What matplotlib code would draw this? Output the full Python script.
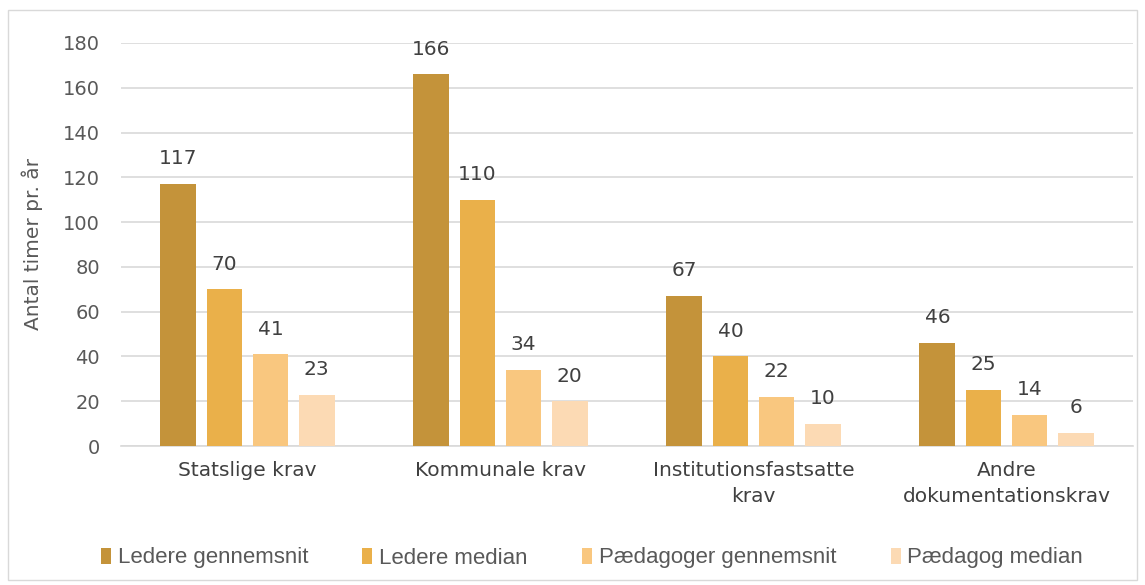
import matplotlib.pyplot as plt
import numpy as np
from matplotlib.patches import Rectangle

categories = ["Statslige krav", "Kommunale krav", "Institutionsfastsatte\nkrav", "Andre\ndokumentationskrav"]
series_names = ["Ledere gennemsnit", "Ledere median", "Pædagoger gennemsnit", "Pædagog median"]
ledere_gns = [117, 166, 67, 46]
ledere_median = [70, 110, 40, 25]
paed_gns = [41, 34, 22, 14]
paed_median = [23, 20, 10, 6]
colors = ["#C4933A", "#EAB04A", "#F9C77F", "#FCDAB4"]

W, H = 1145, 585
fig = plt.figure(figsize=(W / 100, H / 100), dpi=100)
ax = fig.add_axes([121 / W, 1 - 446 / H, (1133 - 121) / W, (446 - 43) / H])

x = np.arange(len(categories))
data = [ledere_gns, ledere_median, paed_gns, paed_median]
bw = 0.142
step = 0.182
for i, (vals, c, name) in enumerate(zip(data, colors, series_names)):
    pos = x + (i - 1.5) * step
    ax.bar(pos, vals, width=bw, color=c, label=name, zorder=3)
    for p, v in zip(pos, vals):
        ax.text(p, v + 7, f"{v}", ha="center", va="bottom", fontsize=14.5,
                color="#404040", family="DejaVu Sans")

ax.set_ylim(0, 180)
ax.set_xlim(-0.5, 3.5)
ax.set_yticks(range(0, 181, 20))
ax.yaxis.grid(True, color="#D9D9D9", linewidth=1.2, zorder=0)
ax.set_axisbelow(True)
for s in ["top", "right", "left"]:
    ax.spines[s].set_visible(False)
ax.spines["bottom"].set_color("#D9D9D9")
ax.spines["bottom"].set_linewidth(1.2)
ax.tick_params(axis="y", length=0, pad=15, labelsize=14, labelcolor="#595959")
ax.tick_params(axis="x", length=0, pad=11, labelsize=14.5, labelcolor="#404040")
ax.set_xticks(x)
ax.set_xticklabels(categories, linespacing=1.45)
ax.set_ylabel("Antal timer pr. år", fontsize=14.5, color="#595959")
ax.yaxis.set_label_coords(-78 / (1133 - 121), 0.5)

fig.legend(loc="center", bbox_to_anchor=(592 / W, 1 - 558 / H), ncol=4, frameon=False,
           prop={"family": "Liberation Sans", "size": 16}, handlelength=0.45, handleheight=0.7,
           handletextpad=0.3, columnspacing=2.45, labelcolor="#595959")

fig.patches.append(Rectangle((8 / W, 1 - 580 / H), (1137 - 8) / W, (580 - 10) / H,
                             transform=fig.transFigure, fill=False, edgecolor="#D9D9D9", linewidth=1))

fig.savefig("out.png", dpi=100, facecolor="white")
